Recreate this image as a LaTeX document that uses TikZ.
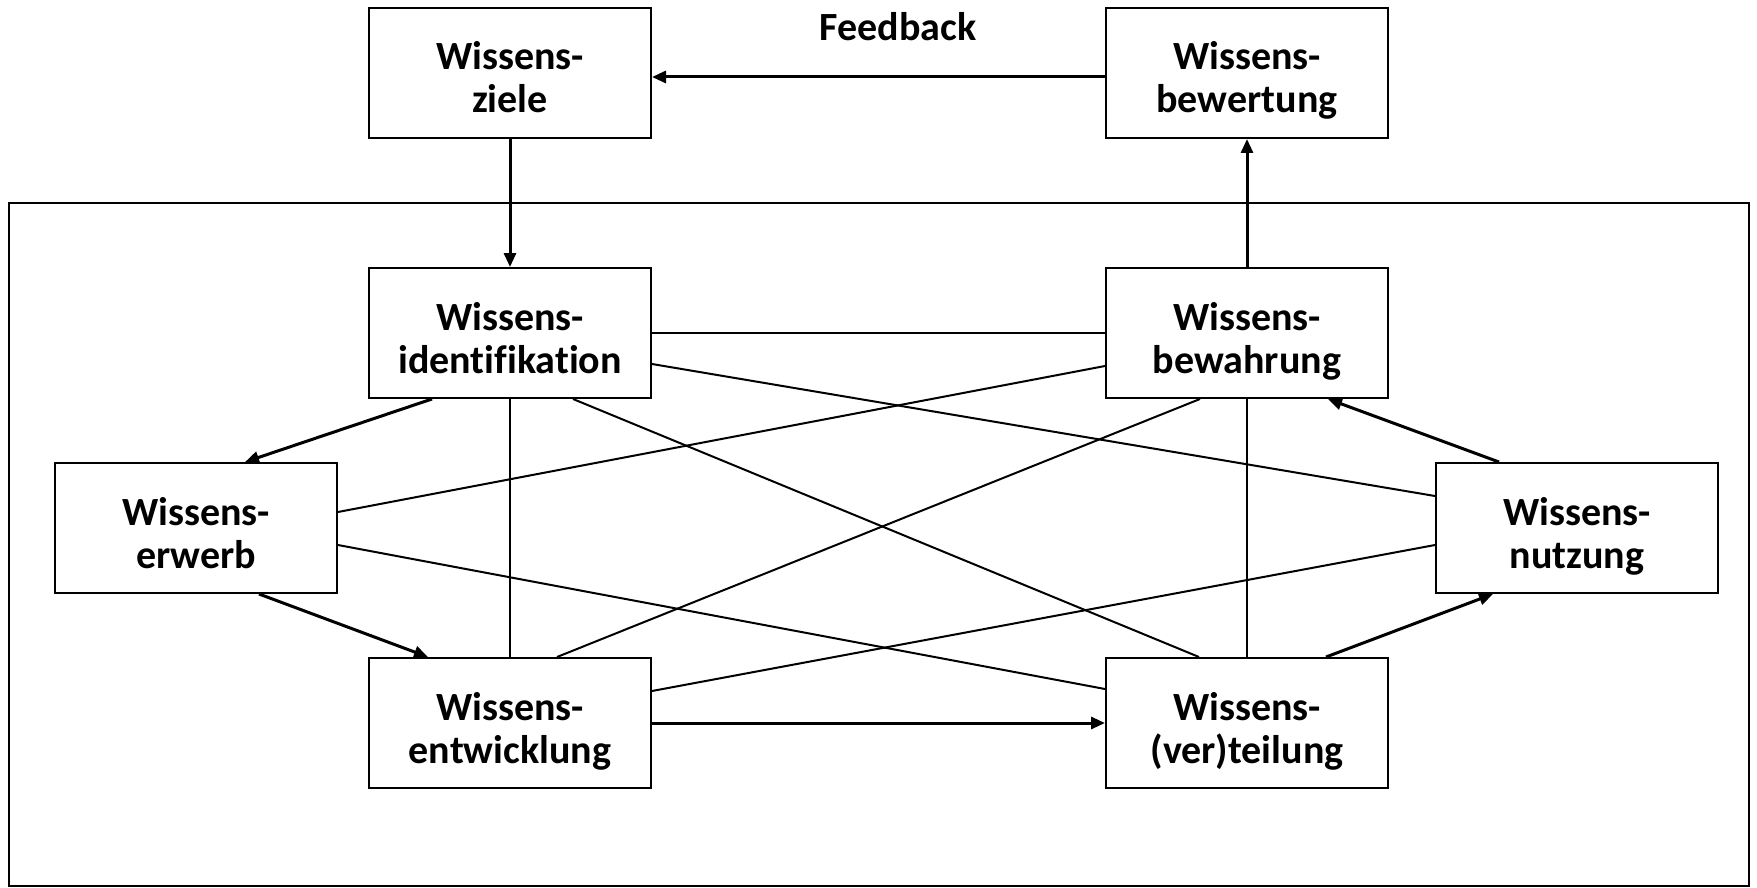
\documentclass[tikz,border=0pt]{standalone}
\usepackage{fontspec}
\setmainfont{Carlito}[Ligatures=NoCommon]
\usetikzlibrary{arrows.meta}

\begin{document}
\begin{tikzpicture}[
        x=1pt, y=-1pt,
        phase/.style={rectangle, draw=black, line width=2pt, fill=white, minimum width=282pt, minimum height=130pt, inner sep=0pt, align=center, font=\fontsize{40}{43}\selectfont\bfseries,
            text height=95pt, text depth=15pt},
        link/.style={line width=2pt},
        flow/.style={-{Triangle[length=14pt, width=12pt]}, line width=3pt},
    ]
        \useasboundingbox (0,0) rectangle (1757,888);
        \draw[line width=2.5pt] (9,203) rectangle (1749,886);

        \node[phase] (ziele) at (510,73) {Wissens-\\ziele};
        \node[phase] (bewertung) at (1247,73) {Wissens-\\bewertung};
        \node[font=\fontsize{40}{43}\selectfont\bfseries] (feedback) at (898,27) {Feedback};

        \node[phase] (identifikation) at (510,333) {Wissens-\\identifikation};
        \node[phase] (bewahrung) at (1247,333) {Wissens-\\bewahrung};
        \node[phase] (erwerb) at (196,528) {Wissens-\\erwerb};
        \node[phase] (nutzung) at (1577,528) {Wissens-\\nutzung};
        \node[phase] (entwicklung) at (510,723) {Wissens-\\entwicklung};
        \node[phase] (verteilung) at (1247,723) {Wissens-\\(ver)teilung};

        \draw[flow] ([yshift=-4pt]bewertung.west) -- ([yshift=-4pt]ziele.east);
        \draw[flow] (ziele.south) -- (identifikation.north);
        \draw[flow] (bewahrung.north) -- (bewertung.south);

        \draw[link] (identifikation.east) -- (bewahrung.west);
        \draw[link] ([yshift=-31pt]identifikation.east) -- ([yshift=32pt]nutzung.west);
        \draw[link] ([xshift=63pt]identifikation.south) -- ([xshift=-48pt]verteilung.north);
        \draw[link] (identifikation.south) -- (entwicklung.north);
        \draw[link] ([yshift=-33pt]bewahrung.west) -- ([yshift=16pt]erwerb.east);
        \draw[link] ([xshift=-47pt]bewahrung.south) -- ([xshift=47pt]entwicklung.north);
        \draw[link] (bewahrung.south) -- (verteilung.north);
        \draw[link] ([yshift=-17pt]erwerb.east) -- ([yshift=34pt]verteilung.west);
        \draw[link] ([yshift=32pt]entwicklung.east) -- ([yshift=-17pt]nutzung.west);

        \draw[flow] ([xshift=-78pt]identifikation.south) -- ([xshift=49pt]erwerb.north);
        \draw[flow] ([xshift=63pt]erwerb.south) -- ([xshift=-82pt]entwicklung.north);
        \draw[flow] (entwicklung.east) -- (verteilung.west);
        \draw[flow] ([xshift=79pt]verteilung.north) -- ([xshift=-84pt]nutzung.south);
        \draw[flow] ([xshift=-78pt]nutzung.north) -- ([xshift=81pt]bewahrung.south);
    \end{tikzpicture}
\end{document}
